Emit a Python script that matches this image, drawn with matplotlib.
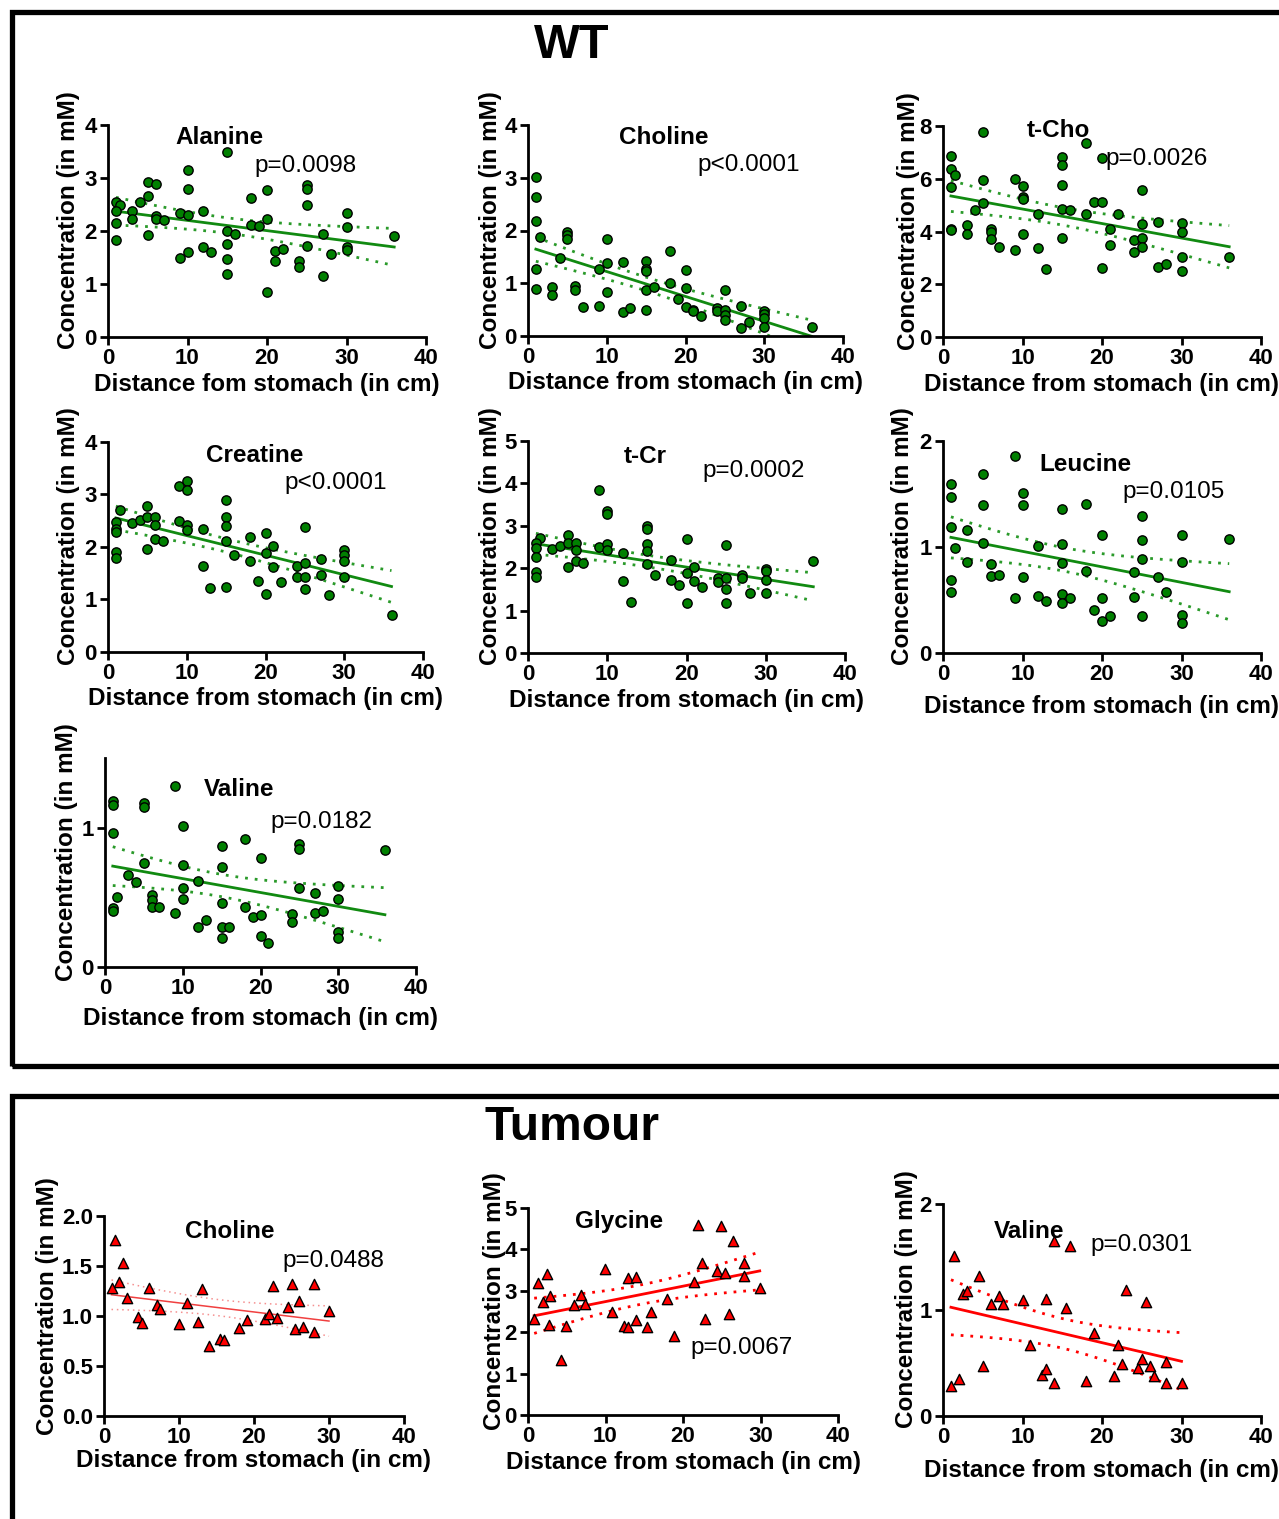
import numpy as np
import matplotlib
matplotlib.use("Agg")
import matplotlib.pyplot as plt
from matplotlib.patches import Rectangle

plt.rcParams['font.family'] = ['Liberation Sans', 'DejaVu Sans']

W, H = 1279, 1519

# ---- WT data (distance in cm, concentration in mM) ----
ala_x = [1, 1.5, 1, 1, 1, 3, 3, 4, 5, 5, 5, 6, 6, 6, 7, 9, 9, 10, 10, 10, 10, 12, 12, 13,
         15, 15, 15, 15, 15, 16, 18, 18, 19, 20, 20, 20, 21, 21, 22, 24, 24, 25, 25, 25, 25,
         27, 27, 28, 30, 30, 30, 30, 36]
ala_y = [2.55, 2.5, 2.38, 2.16, 1.83, 2.37, 2.22, 2.55, 2.93, 2.66, 1.93, 2.88, 2.29, 2.22,
         2.2, 2.34, 1.5, 3.16, 2.8, 2.3, 1.61, 2.37, 1.69, 1.6, 3.5, 2.0, 1.75, 1.48, 1.19,
         1.95, 2.62, 2.12, 2.1, 2.78, 2.22, 0.85, 1.62, 1.44, 1.66, 1.44, 1.32, 2.86, 2.79,
         2.5, 1.71, 1.94, 1.15, 1.57, 2.34, 2.08, 1.7, 1.64, 1.9]

cho_x = [1, 1, 1, 1.5, 1, 1, 3, 3, 4, 5, 5, 5, 6, 6, 7, 9, 9, 10, 10, 10, 12, 12, 13, 15,
         15, 15, 15, 15, 16, 18, 18, 19, 20, 20, 20, 21, 21, 22, 24, 24, 25, 25, 25, 25, 27,
         27, 28, 30, 30, 30, 30, 36]
cho_y = [3.02, 2.64, 2.18, 1.87, 1.27, 0.89, 0.93, 0.78, 1.48, 1.98, 1.92, 1.83, 0.95, 0.87,
         0.55, 1.27, 0.56, 1.83, 1.39, 0.84, 1.41, 0.45, 0.53, 1.43, 1.27, 1.23, 0.88, 0.5,
         0.93, 1.62, 1.01, 0.71, 1.25, 0.91, 0.55, 0.5, 0.48, 0.38, 0.54, 0.47, 0.87, 0.49,
         0.4, 0.31, 0.56, 0.15, 0.26, 0.47, 0.42, 0.34, 0.17, 0.18]

tcho_x = [5, 1, 1, 1.5, 1, 1, 1, 3, 3, 4, 5, 5, 6, 6, 6, 7, 9, 9, 10, 10, 10, 10, 12, 12, 13,
          15, 15, 15, 15, 15, 16, 18, 18, 19, 20, 20, 20, 21, 21, 22, 24, 24, 25, 25, 25, 25,
          27, 27, 28, 30, 30, 30, 30, 36]
tcho_y = [7.77, 6.87, 6.37, 6.16, 5.7, 4.11, 4.04, 4.23, 3.92, 4.8, 5.96, 5.08, 4.09, 3.99,
          3.73, 3.41, 6.0, 3.28, 5.72, 5.32, 5.22, 3.92, 4.65, 3.38, 2.56, 6.84, 6.51, 5.75,
          4.87, 3.75, 4.81, 7.35, 4.65, 5.11, 6.78, 5.13, 2.62, 4.1, 3.49, 4.66, 3.66, 3.24,
          5.56, 4.29, 3.76, 3.43, 4.35, 2.67, 2.77, 4.32, 3.97, 3.04, 2.49, 3.05]

cre_x = [1.5, 1, 1, 1, 1, 1, 3, 4, 5, 5, 5, 6, 6, 6, 7, 9, 9, 10, 10, 10, 10, 12, 12, 13, 15,
         15, 15, 15, 15, 16, 18, 18, 19, 20, 20, 20, 21, 21, 22, 24, 24, 25, 25, 25, 25, 27,
         27, 28, 30, 30, 30, 30, 36]
cre_y = [2.71, 2.47, 2.34, 2.28, 1.9, 1.79, 2.46, 2.52, 2.78, 2.58, 1.97, 2.58, 2.42, 2.16,
         2.12, 3.16, 2.49, 3.25, 3.09, 2.42, 2.32, 2.35, 1.63, 1.21, 2.9, 2.57, 2.4, 2.12,
         1.23, 1.84, 2.19, 1.73, 1.35, 2.27, 1.88, 1.11, 2.02, 1.61, 1.34, 1.63, 1.43, 2.39,
         1.69, 1.42, 1.2, 1.77, 1.46, 1.09, 1.95, 1.84, 1.73, 1.42, 0.7]

tcr_x = [1.5, 1, 1, 1, 1, 1, 3, 4, 5, 5, 5, 6, 6, 6, 7, 9, 9, 10, 10, 10, 10, 12, 12, 13, 15,
         15, 15, 15, 15, 16, 18, 18, 19, 20, 20, 20, 21, 21, 22, 24, 24, 25, 25, 25, 25, 27,
         27, 28, 30, 30, 30, 30, 36]
tcr_y = [2.71, 2.59, 2.47, 2.27, 1.9, 1.79, 2.46, 2.53, 2.79, 2.59, 2.04, 2.59, 2.42, 2.17,
         2.12, 3.85, 2.49, 3.36, 3.29, 2.57, 2.44, 2.35, 1.69, 1.2, 2.99, 2.93, 2.58, 2.41,
         2.11, 1.83, 2.2, 1.73, 1.6, 2.69, 1.88, 1.17, 2.02, 1.69, 1.56, 1.77, 1.68, 2.55,
         1.76, 1.52, 1.19, 1.83, 1.77, 1.42, 1.97, 1.93, 1.73, 1.41, 2.17]

leu_x = [9, 5, 1, 1, 10, 10, 5, 15, 18, 25, 1, 3, 20, 25, 30, 36, 5, 1.5, 12, 15, 3, 6, 6, 7,
         10, 15, 18, 24, 25, 27, 30, 1, 1, 9, 12, 13, 15, 15, 16, 19, 20, 20, 21, 24, 25, 28,
         30, 30]
leu_y = [1.86, 1.69, 1.59, 1.47, 1.51, 1.4, 1.4, 1.36, 1.41, 1.29, 1.19, 1.16, 1.11, 1.07,
         1.11, 1.08, 1.04, 0.99, 1.01, 1.03, 0.86, 0.84, 0.73, 0.74, 0.72, 0.85, 0.77, 0.76,
         0.89, 0.72, 0.86, 0.69, 0.58, 0.52, 0.54, 0.49, 0.56, 0.47, 0.52, 0.41, 0.52, 0.3,
         0.35, 0.53, 0.35, 0.58, 0.36, 0.28]

val_x = [9, 1, 1, 1, 5, 5, 10, 15, 18, 25, 25, 36, 20, 5, 10, 15, 3, 4, 12, 10, 25, 27, 30,
         1.5, 6, 6, 6, 7, 10, 15, 18, 30, 1, 1, 9, 27, 28, 24, 24, 19, 20, 13, 12, 15, 16,
         15, 20, 21, 30, 30]
val_y = [1.3, 1.19, 1.16, 0.96, 1.18, 1.15, 1.01, 0.87, 0.92, 0.88, 0.85, 0.84, 0.78, 0.75,
         0.73, 0.72, 0.66, 0.61, 0.62, 0.57, 0.57, 0.53, 0.58, 0.5, 0.52, 0.48, 0.43, 0.43,
         0.49, 0.46, 0.43, 0.49, 0.42, 0.4, 0.39, 0.39, 0.4, 0.38, 0.32, 0.36, 0.37, 0.34,
         0.29, 0.29, 0.29, 0.21, 0.22, 0.17, 0.25, 0.21]

# ---- Tumour data ----
tcho_t_x = [1.5, 2.5, 2, 1, 3, 6, 4.5, 5, 7, 7.5, 10, 11, 12.5, 13, 14, 15.5, 16, 18, 19,
            21.5, 22, 22.5, 23, 24.5, 25, 25.5, 26, 26.5, 28, 28, 30]
tcho_t_y = [1.76, 1.53, 1.34, 1.28, 1.18, 1.28, 0.99, 0.93, 1.11, 1.07, 0.92, 1.13, 0.94,
            1.27, 0.7, 0.77, 0.76, 0.88, 0.96, 0.97, 1.02, 1.3, 0.98, 1.09, 1.32, 0.87, 1.15,
            0.89, 1.32, 0.84, 1.05]

gly_x = [0.8, 1.3, 1.9, 2.4, 2.7, 2.9, 4.3, 4.9, 5.9, 6.9, 7.4, 9.9, 10.9, 12.4, 12.9, 12.9,
         13.9, 13.9, 15.3, 15.9, 17.9, 18.9, 21.4, 21.9, 22.4, 22.9, 24.4, 24.9, 25.4, 25.9,
         26.4, 27.9, 27.9, 29.9]
gly_y = [2.33, 3.2, 2.72, 3.41, 2.17, 2.88, 1.32, 2.14, 2.65, 2.91, 2.67, 3.53, 2.49, 2.14,
         2.13, 3.3, 3.33, 2.29, 2.13, 2.5, 2.8, 1.92, 3.22, 4.6, 3.66, 2.33, 3.48, 4.57, 3.44,
         2.43, 4.21, 3.68, 3.36, 3.06]

val_t_x = [1.4, 1, 2, 2.5, 3, 4.5, 5, 6, 7, 7.5, 10, 11, 12.5, 13, 13, 14, 14, 15.5, 16, 18,
           19, 21.5, 22, 22.5, 23, 24.5, 25, 25.5, 26, 26.5, 28, 28, 30]
val_t_y = [1.51, 0.28, 0.35, 1.15, 1.18, 1.32, 0.47, 1.06, 1.13, 1.06, 1.09, 0.67, 0.39, 1.1,
           0.44, 1.65, 0.31, 1.02, 1.6, 0.33, 0.78, 0.38, 0.67, 0.49, 1.19, 0.45, 0.54, 1.08,
           0.47, 0.38, 0.51, 0.31, 0.31]

XLAB = "Distance from stomach (in cm)"
YLAB = "Concentration (in mM)"

fig = plt.figure(figsize=(W / 100, H / 100), dpi=100)


def px_axes(l, r, t, b):
    return fig.add_axes([l / W, 1 - b / H, (r - l) / W, (b - t) / H])


def fit_band(x, y, tval=2.01):
    x = np.asarray(x, float)
    y = np.asarray(y, float)
    n = len(x)
    slope, icpt = np.polyfit(x, y, 1)
    xs = np.linspace(x.min(), x.max(), 100)
    yhat = icpt + slope * xs
    resid = y - (icpt + slope * x)
    s = np.sqrt(np.sum(resid ** 2) / (n - 2))
    se = s * np.sqrt(1 / n + (xs - x.mean()) ** 2 / np.sum((x - x.mean()) ** 2))
    return xs, yhat, yhat - tval * se, yhat + tval * se


def panel(rect, x, y, ymax, yticks, name, pval, name_pos, p_pos, ylab_x, xlab_y,
          xlabel=XLAB, tumour=False, yfmt=None, thin=False):
    l, r, t, b = rect
    ax = px_axes(l, r, t, b)
    if tumour:
        col, lcol, bcol = 'red', 'red', 'red'
        mk, ms = '^', 55
    else:
        col, lcol, bcol = '#008000', '#118a11', '#2a9a2a'
        mk, ms = 'o', 45
    lw = 2.0
    if thin:
        lcol, bcol, lw = '#f04040', '#f59090', 1.1
    xs, yhat, lo, hi = fit_band(x, y)
    ax.plot(xs, yhat, color=lcol, lw=lw, zorder=2)
    ax.plot(xs, lo, color=bcol, lw=lw, ls=(0, (1, 2.5)), zorder=2)
    ax.plot(xs, hi, color=bcol, lw=lw, ls=(0, (1, 2.5)), zorder=2)
    ax.scatter(x, y, s=ms, marker=mk, c=col, edgecolors='black', linewidths=1.0, zorder=3,
               clip_on=False)
    ax.set_xlim(0, 40)
    ax.set_ylim(0, ymax)
    ax.set_xticks([0, 10, 20, 30, 40])
    ax.set_yticks(yticks)
    if yfmt:
        ax.set_yticklabels([yfmt % v for v in yticks])
    for side in ['top', 'right']:
        ax.spines[side].set_visible(False)
    for side in ['left', 'bottom']:
        ax.spines[side].set_linewidth(2)
    ax.tick_params(width=2, length=6, labelsize=16, pad=2)
    for lab in ax.get_xticklabels() + ax.get_yticklabels():
        lab.set_fontweight('bold')
    w, h = r - l, b - t
    ax.set_xlabel(xlabel, fontsize=17.5, fontweight='bold')
    ax.xaxis.set_label_coords(0.5, (b - xlab_y) / h)
    ax.xaxis.label.set_va('center')
    ax.set_ylabel(YLAB, fontsize=17.5, fontweight='bold')
    ax.yaxis.set_label_coords((ylab_x - l) / w, 0.55)
    ax.yaxis.label.set_va('center')
    ax.text(name_pos[0], name_pos[1], name, transform=ax.transAxes, fontsize=17.5,
            fontweight='bold', ha='center', va='center')
    ax.text(p_pos[0], p_pos[1], pval, transform=ax.transAxes, fontsize=17.5,
            ha='center', va='center')
    return ax


# WT section
panel((108, 426, 125, 337), ala_x, ala_y, 4, [0, 1, 2, 3, 4], "Alanine", "p=0.0098",
      (0.352, 0.939), (0.62, 0.807), 68, 384, xlabel="Distance fom stomach (in cm)")
panel((528, 843, 125, 336), cho_x, cho_y, 4, [0, 1, 2, 3, 4], "Choline", "p<0.0001",
      (0.432, 0.943), (0.70, 0.81), 490, 383)
panel((943, 1261, 126, 337), tcho_x, tcho_y, 8, [0, 2, 4, 6, 8], "t-Cho", "p=0.0026",
      (0.362, 0.98), (0.673, 0.844), 908, 384)
panel((108, 423, 442, 652), cre_x, cre_y, 4, [0, 1, 2, 3, 4], "Creatine", "p<0.0001",
      (0.467, 0.938), (0.724, 0.805), 68, 699)
panel((528, 845, 441, 653), tcr_x, tcr_y, 5, [0, 1, 2, 3, 4, 5], "t-Cr", "p=0.0002",
      (0.369, 0.925), (0.713, 0.858), 490, 701)
panel((943, 1261, 441, 653), leu_x, leu_y, 2, [0, 1, 2], "Leucine", "p=0.0105",
      (0.447, 0.887), (0.726, 0.759), 903, 707)
panel((105, 416, 758, 967), val_x, val_y, 1.5, [0, 1], "Valine", "p=0.0182",
      (0.431, 0.847), (0.695, 0.694), 66, 1019)

# Tumour section
panel((104, 404, 1216, 1416), tcho_t_x, tcho_t_y, 2, [0, 0.5, 1, 1.5, 2], "Choline",
      "p=0.0488", (0.42, 0.92), (0.763, 0.775), 48, 1461, tumour=True, yfmt="%.1f",
      thin=True)
panel((528, 838, 1208, 1415), gly_x, gly_y, 5, [0, 1, 2, 3, 4, 5], "Glycine", "p=0.0067",
      (0.294, 0.937), (0.69, 0.324), 494, 1462, tumour=True)
panel((943, 1261, 1204, 1416), val_t_x, val_t_y, 2, [0, 1, 2], "Valine", "p=0.0301",
      (0.27, 0.868), (0.623, 0.807), 906, 1470, tumour=True)

# section boxes and headings
fig.add_artist(Rectangle((12 / W, 1 - 1066 / H), 1.2, (1066 - 12) / H, transform=fig.transFigure,
                         fill=False, lw=3.8, ec='black', clip_on=False))
fig.add_artist(Rectangle((12 / W, -0.1), 1.2, 0.1 + (H - 1096) / H, transform=fig.transFigure,
                         fill=False, lw=3.8, ec='black', clip_on=False))
fig.text(572 / W, 1 - 46 / H, "WT", fontsize=35, fontweight='bold', ha='center', va='center')
fig.text(572 / W, 1 - 1128 / H, "Tumour", fontsize=34.5, fontweight='bold', ha='center',
         va='center')

fig.savefig("out.png", dpi=100)
